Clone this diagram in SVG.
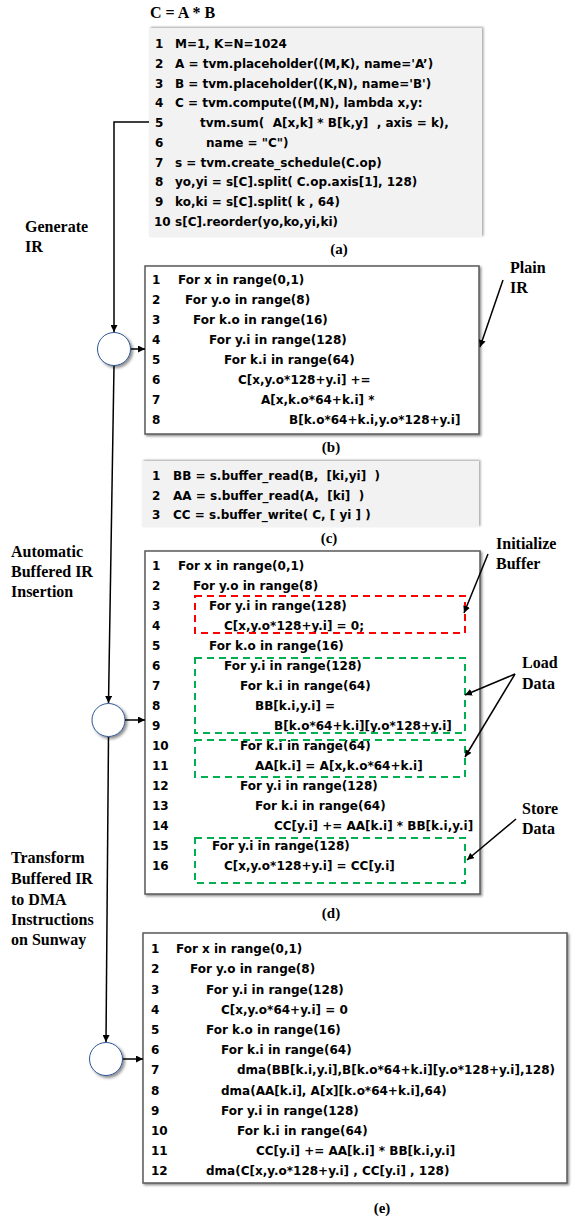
<svg xmlns="http://www.w3.org/2000/svg" width="575" height="1220" viewBox="0 0 575 1220">
<defs>
<style>
.code{font-family:"DejaVu Sans","Liberation Sans",sans-serif;font-weight:bold;font-size:12px;fill:#000}
.lbl{font-family:"Liberation Serif","Times New Roman",serif;font-weight:bold;font-size:16px;fill:#000}
.cap{font-family:"Liberation Serif","Times New Roman",serif;font-weight:bold;font-size:15px;fill:#000;text-anchor:middle}
.title{font-family:"Liberation Serif","Times New Roman",serif;font-weight:bold;font-size:16px;fill:#000}
.gray{fill:#f2f2f2}
.box{fill:#fff;stroke:#595959;stroke-width:1.5}
.circ{fill:#fff;stroke:#2f5597;stroke-width:1}
.conn{stroke:#000;stroke-width:1.5;fill:none}
.red{fill:none;stroke:#ff0000;stroke-width:2;stroke-dasharray:7 5}
.green{fill:none;stroke:#00b050;stroke-width:2;stroke-dasharray:7 5}
</style>
<filter id="sh" x="-5%" y="-5%" width="115%" height="115%"><feDropShadow dx="1.5" dy="1.5" stdDeviation="1" flood-color="#000" flood-opacity="0.45"/></filter>
<filter id="shg" x="-5%" y="-10%" width="115%" height="120%"><feDropShadow dx="1.5" dy="-1" stdDeviation="1" flood-color="#000" flood-opacity="0.35"/></filter>
<filter id="shc" x="-30%" y="-30%" width="170%" height="170%"><feDropShadow dx="2" dy="2" stdDeviation="1.5" flood-color="#000" flood-opacity="0.45"/></filter>
<marker id="ah" viewBox="0 0 8 8" refX="8" refY="4" markerWidth="7" markerHeight="7" orient="auto" markerUnits="userSpaceOnUse"><path d="M0,0L8,4L0,8z" fill="#000"/></marker>
</defs>
<rect width="575" height="1220" fill="#fff"/>

<text class="title" x="150" y="18">C = A * B</text>

<g id="panel-a">
<rect class="gray" x="149" y="28" width="333" height="209" filter="url(#shg)"/>
<g class="code">
<text y="48"><tspan x="155">1</tspan><tspan x="175">M=1, K=N=1024</tspan></text>
<text y="68"><tspan x="155">2</tspan><tspan x="175">A = tvm.placeholder((M,K), name='A’)</tspan></text>
<text y="87.5"><tspan x="155">3</tspan><tspan x="175">B = tvm.placeholder((K,N), name='B')</tspan></text>
<text y="107"><tspan x="155">4</tspan><tspan x="175">C = tvm.compute((M,N), lambda x,y:</tspan></text>
<text y="127"><tspan x="155">5</tspan><tspan x="200">tvm.sum(&#160; A[x,k] * B[k,y] &#160;, axis = k),</tspan></text>
<text y="147"><tspan x="155">6</tspan><tspan x="206">name = "C")</tspan></text>
<text y="166.5"><tspan x="155">7</tspan><tspan x="175">s = tvm.create_schedule(C.op)</tspan></text>
<text y="186"><tspan x="155">8</tspan><tspan x="175">yo,yi = s[C].split( C.op.axis[1], 128)</tspan></text>
<text y="206"><tspan x="155">9</tspan><tspan x="175">ko,ki = s[C].split( k , 64)</tspan></text>
<text y="226"><tspan x="154">10</tspan><tspan x="175">s[C].reorder(yo,ko,yi,ki)</tspan></text>
</g>
<text class="cap" x="339" y="254">(a)</text>
</g>

<g id="panel-b">
<rect class="box" x="145" y="266" width="334" height="168" filter="url(#sh)"/>
<g class="code">
<text y="284"><tspan x="152">1</tspan><tspan x="178">For x in range(0,1)</tspan></text>
<text y="304"><tspan x="152">2</tspan><tspan x="185">For y.o in range(8)</tspan></text>
<text y="324"><tspan x="152">3</tspan><tspan x="193">For k.o in range(16)</tspan></text>
<text y="344"><tspan x="152">4</tspan><tspan x="209">For y.i in range(128)</tspan></text>
<text y="364"><tspan x="152">5</tspan><tspan x="224">For k.i in range(64)</tspan></text>
<text y="384"><tspan x="152">6</tspan><tspan x="238">C[x,y.o*128+y.i] +=</tspan></text>
<text y="404"><tspan x="152">7</tspan><tspan x="261">A[x,k.o*64+k.i] *</tspan></text>
<text y="424"><tspan x="152">8</tspan><tspan x="289">B[k.o*64+k.i,y.o*128+y.i]</tspan></text>
</g>
<text class="cap" x="331" y="452">(b)</text>
</g>

<g id="panel-c">
<rect class="gray" x="142" y="461" width="337" height="66" filter="url(#shg)"/>
<g class="code">
<text y="480"><tspan x="152">1</tspan><tspan x="173">BB = s.buffer_read(B,&#160; [ki,yi]&#160; )</tspan></text>
<text y="500"><tspan x="152">2</tspan><tspan x="173">AA = s.buffer_read(A,&#160; [ki]&#160; )</tspan></text>
<text y="519"><tspan x="152">3</tspan><tspan x="173">CC = s.buffer_write( C, [ yi ] )</tspan></text>
</g>
<text class="cap" x="329" y="543">(c)</text>
</g>

<g id="panel-d">
<rect class="box" x="145" y="551" width="335" height="343" filter="url(#sh)"/>
<g class="code">
<text y="570"><tspan x="152">1</tspan><tspan x="178">For x in range(0,1)</tspan></text>
<text y="590"><tspan x="152">2</tspan><tspan x="193">For y.o in range(8)</tspan></text>
<text y="610"><tspan x="152">3</tspan><tspan x="209">For y.i in range(128)</tspan></text>
<text y="630"><tspan x="152">4</tspan><tspan x="224">C[x,y.o*128+y.i] = 0;</tspan></text>
<text y="650"><tspan x="152">5</tspan><tspan x="209">For k.o in range(16)</tspan></text>
<text y="670"><tspan x="152">6</tspan><tspan x="224">For y.i in range(128)</tspan></text>
<text y="690"><tspan x="152">7</tspan><tspan x="240">For k.i in range(64)</tspan></text>
<text y="710"><tspan x="152">8</tspan><tspan x="255">BB[k.i,y.i] =</tspan></text>
<text y="730"><tspan x="152">9</tspan><tspan x="274">B[k.o*64+k.i][y.o*128+y.i]</tspan></text>
<text y="750"><tspan x="152">10</tspan><tspan x="240">For k.i in range(64)</tspan></text>
<text y="770"><tspan x="152">11</tspan><tspan x="255">AA[k.i] = A[x,k.o*64+k.i]</tspan></text>
<text y="790"><tspan x="152">12</tspan><tspan x="240">For y.i in range(128)</tspan></text>
<text y="810"><tspan x="152">13</tspan><tspan x="255">For k.i in range(64)</tspan></text>
<text y="830"><tspan x="152">14</tspan><tspan x="274">CC[y.i] += AA[k.i] * BB[k.i,y.i]</tspan></text>
<text y="850"><tspan x="152">15</tspan><tspan x="212">For y.i in range(128)</tspan></text>
<text y="870"><tspan x="152">16</tspan><tspan x="224">C[x,y.o*128+y.i] = CC[y.i]</tspan></text>
</g>
<rect class="red" x="195" y="596" width="270" height="37"/>
<rect class="green" x="195" y="658" width="270" height="75"/>
<rect class="green" x="195" y="740" width="270" height="37"/>
<rect class="green" x="195" y="838" width="270" height="45"/>
<text class="cap" x="331" y="918">(d)</text>
</g>

<g id="panel-e">
<rect class="box" x="143" y="933" width="424" height="250" filter="url(#sh)"/>
<g class="code">
<text y="953"><tspan x="151">1</tspan><tspan x="176">For x in range(0,1)</tspan></text>
<text y="973"><tspan x="151">2</tspan><tspan x="190">For y.o in range(8)</tspan></text>
<text y="993.5"><tspan x="151">3</tspan><tspan x="206">For y.i in range(128)</tspan></text>
<text y="1013.5"><tspan x="151">4</tspan><tspan x="221">C[x,y.o*64+y.i] = 0</tspan></text>
<text y="1034"><tspan x="151">5</tspan><tspan x="206">For k.o in range(16)</tspan></text>
<text y="1054"><tspan x="151">6</tspan><tspan x="221">For k.i in range(64)</tspan></text>
<text y="1074"><tspan x="151">7</tspan><tspan x="237">dma(BB[k.i,y.i],B[k.o*64+k.i][y.o*128+y.i],128)</tspan></text>
<text y="1094.5"><tspan x="151">8</tspan><tspan x="221">dma(AA[k.i], A[x][k.o*64+k.i],64)</tspan></text>
<text y="1114.5"><tspan x="151">9</tspan><tspan x="221">For y.i in range(128)</tspan></text>
<text y="1135"><tspan x="151">10</tspan><tspan x="237">For k.i in range(64)</tspan></text>
<text y="1155"><tspan x="151">11</tspan><tspan x="256">CC[y.i] += AA[k.i] * BB[k.i,y.i]</tspan></text>
<text y="1175"><tspan x="151">12</tspan><tspan x="206">dma(C[x,y.o*128+y.i] , CC[y.i] , 128)</tspan></text>
</g>
<text class="cap" x="382" y="1213">(e)</text>
</g>

<g id="node-step1"><circle class="circ" cx="114" cy="349" r="16.5" filter="url(#shc)"/></g>
<g id="node-step2"><circle class="circ" cx="108.5" cy="720" r="16.5" filter="url(#shc)"/></g>
<g id="node-step3"><circle class="circ" cx="106" cy="1059" r="16.5" filter="url(#shc)"/></g>

<g id="labels">
<text class="lbl"><tspan x="25" y="232">Generate</tspan><tspan x="25" y="252">IR</tspan></text>
<text class="lbl"><tspan x="11" y="557">Automatic</tspan><tspan x="11" y="577">Buffered IR</tspan><tspan x="11" y="597">Insertion</tspan></text>
<text class="lbl"><tspan x="11" y="863">Transform</tspan><tspan x="11" y="884">Buffered IR</tspan><tspan x="11" y="905">to DMA</tspan><tspan x="11" y="925">Instructions</tspan><tspan x="11" y="945">on Sunway</tspan></text>
<text class="lbl"><tspan x="510" y="273">Plain</tspan><tspan x="510" y="293">IR</tspan></text>
<text class="lbl"><tspan x="496" y="549">Initialize</tspan><tspan x="496" y="569">Buffer</tspan></text>
<text class="lbl"><tspan x="522" y="668">Load</tspan><tspan x="522" y="689">Data</tspan></text>
<text class="lbl"><tspan x="522" y="814">Store</tspan><tspan x="522" y="834">Data</tspan></text>
</g>

<g id="connectors" class="conn">
<polyline points="149,122 114,122 114,332" marker-end="url(#ah)"/>
<line x1="114" y1="366" x2="108.5" y2="703" marker-end="url(#ah)"/>
<line x1="108.5" y1="737" x2="106" y2="1042" marker-end="url(#ah)"/>
<line x1="131" y1="349" x2="145" y2="349" marker-end="url(#ah)"/>
<line x1="125" y1="720" x2="145" y2="720" marker-end="url(#ah)"/>
<line x1="123" y1="1059" x2="143" y2="1059" marker-end="url(#ah)"/>
<line x1="503" y1="280" x2="480" y2="347" marker-end="url(#ah)"/>
<line x1="488" y1="554" x2="464" y2="613" marker-end="url(#ah)"/>
<line x1="515" y1="674" x2="465" y2="695" marker-end="url(#ah)"/>
<line x1="515" y1="674" x2="465" y2="757" marker-end="url(#ah)"/>
<line x1="516" y1="819" x2="467" y2="860" marker-end="url(#ah)"/>
</g>
</svg>
